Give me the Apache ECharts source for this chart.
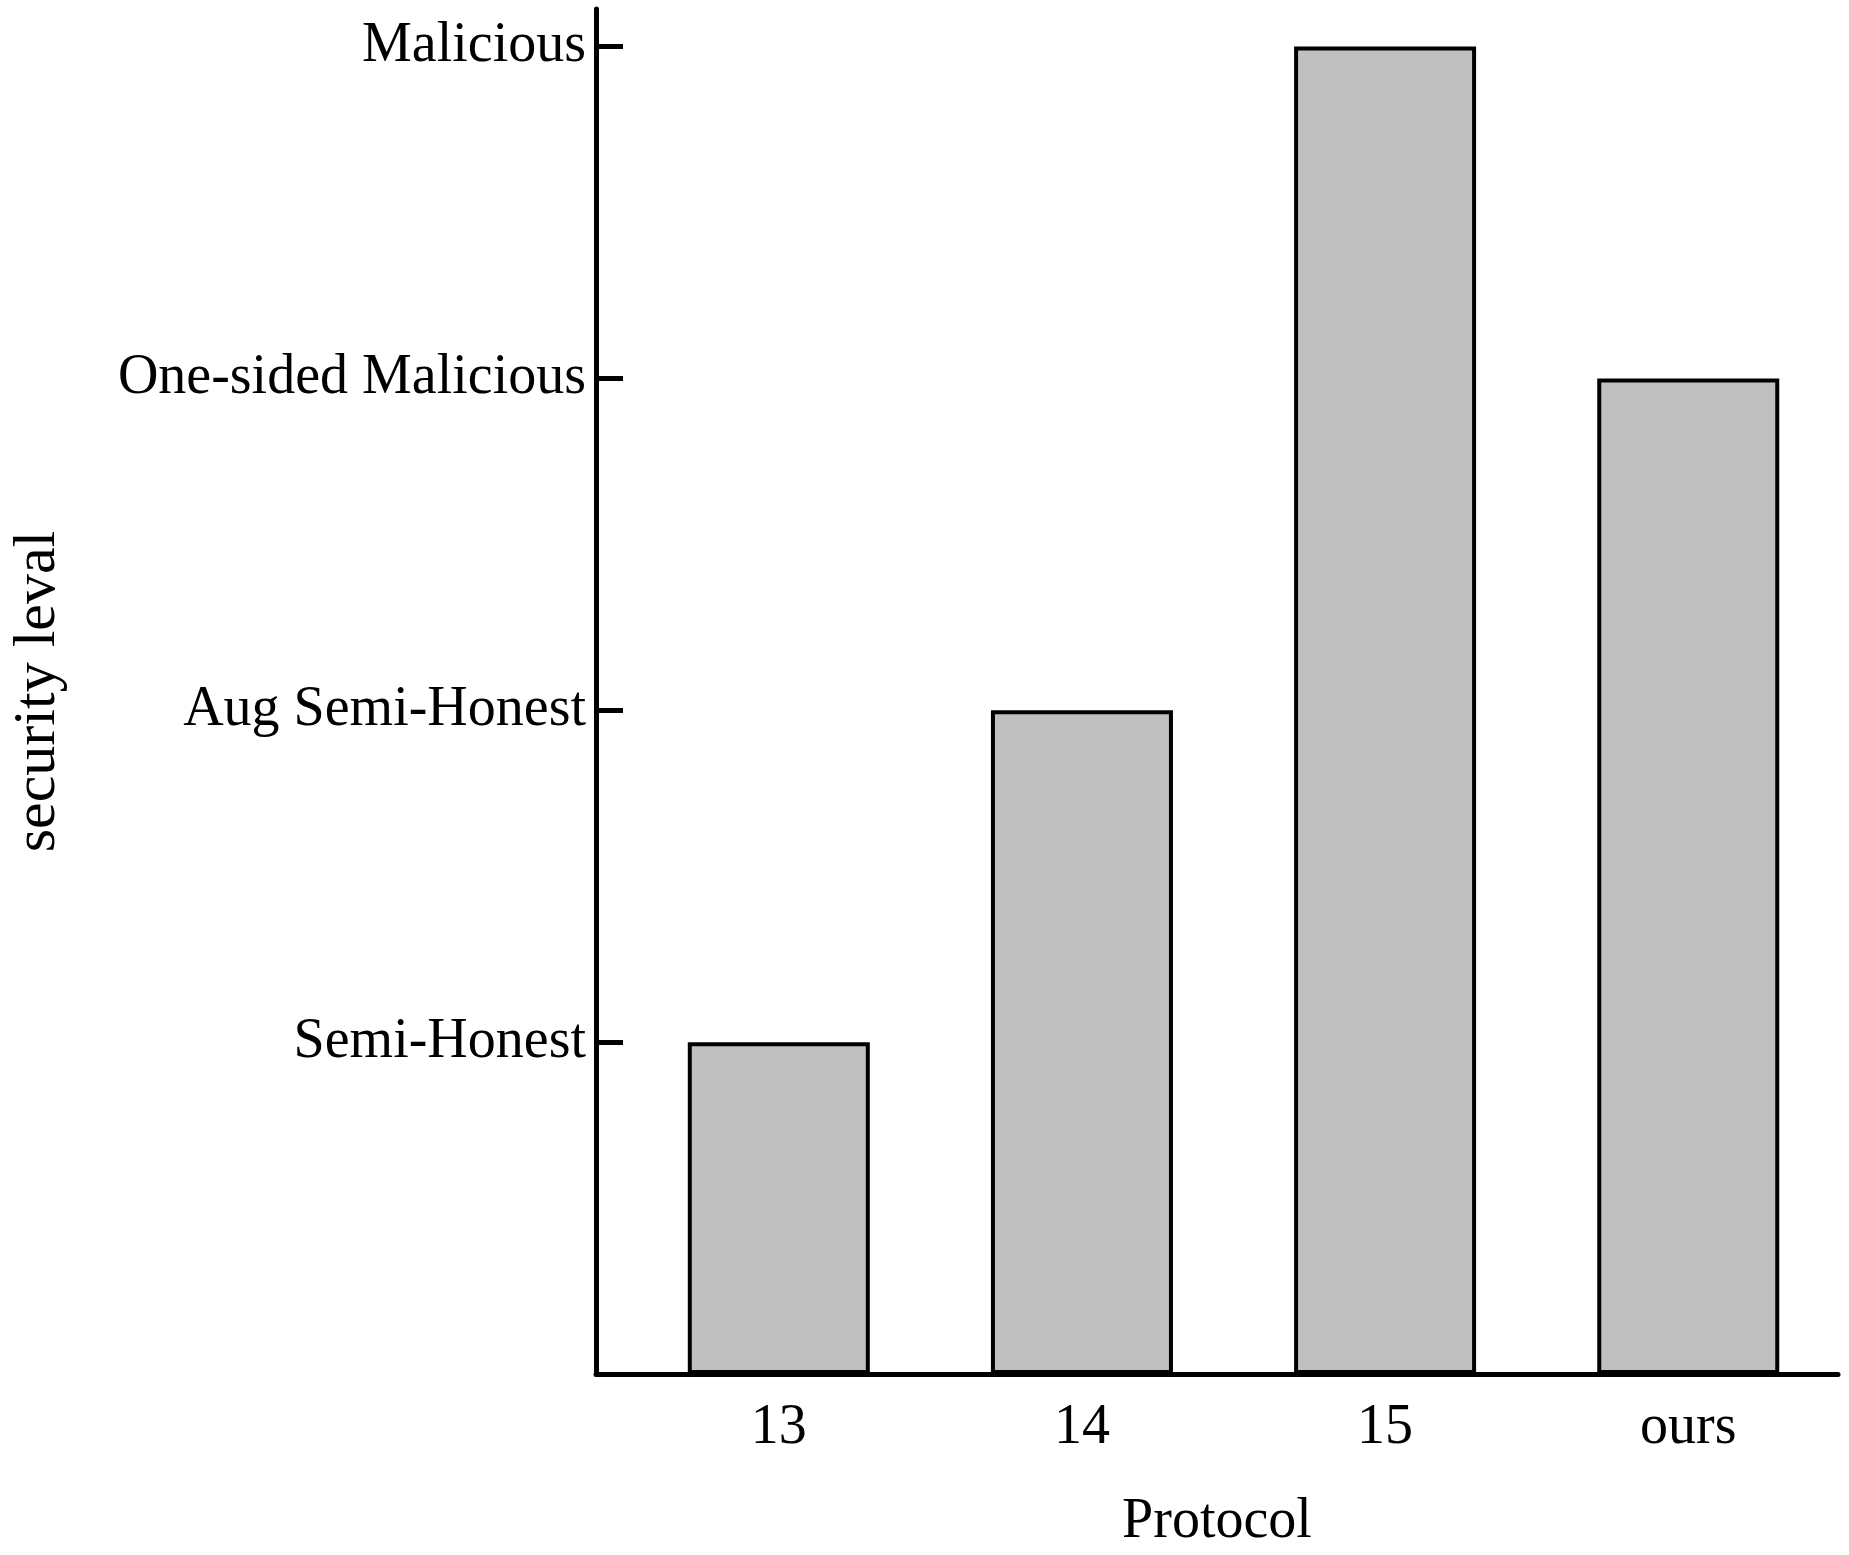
<!DOCTYPE html>
<html>
<head>
<meta charset="utf-8">
<script src="https://cdn.jsdelivr.net/npm/echarts@6/dist/echarts.min.js"></script>
<style>html,body{margin:0;background:#fff;}</style>
</head>
<body>
<div id="chart" style="width:1849px;height:1555px;"></div>
<script>
var protocols = ['13', '14', '15', 'ours'];
var levelNames = ['', 'Semi-Honest', 'Aug Semi-Honest', 'One-sided Malicious', 'Malicious'];
var levels = [1, 2, 4, 3];

var font = 'Liberation Serif';
var chart = echarts.init(document.getElementById('chart'));
chart.setOption({
  animation: false,
  grid: {left: 589, right: 11, top: 9, bottom: 166},
  xAxis: {
    type: 'value', min: -0.603, max: 3.494,
    name: 'Protocol', nameLocation: 'middle', nameGap: 120,
    nameTextStyle: {fontFamily: font, fontSize: 56, color: '#000'},
    axisLine: {onZero: false, lineStyle: {color: '#000', width: 5}},
    axisTick: {show: false},
    splitLine: {show: false},
    axisLabel: {
      customValues: [0, 1, 2, 3], margin: 26,
      fontFamily: font, fontSize: 56, color: '#000',
      formatter: function (v) { return protocols[Math.round(v)]; }
    }
  },
  yAxis: {
    type: 'value', min: 0, max: 4.113,
    name: 'security leval', nameLocation: 'middle', nameGap: 528,
    nameTextStyle: {fontFamily: font, fontSize: 60, color: '#000'},
    axisLine: {onZero: false, lineStyle: {color: '#000', width: 5}},
    axisTick: {inside: true, length: 27, lineStyle: {width: 5, color: '#000'}, customValues: [1, 2, 3, 4]},
    splitLine: {show: false},
    axisLabel: {
      customValues: [1, 2, 3, 4], margin: 10,
      fontFamily: font, fontSize: 56, color: '#000',
      formatter: function (v) { return levelNames[Math.round(v)] || ''; }
    }
  },
  series: [{
    type: 'bar',
    barWidth: 182,
    data: levels.map(function (v, i) { return [i, v]; }),
    itemStyle: {color: '#c0c0c0', borderColor: '#000', borderWidth: 4}
  }]
});
</script>
</body>
</html>
